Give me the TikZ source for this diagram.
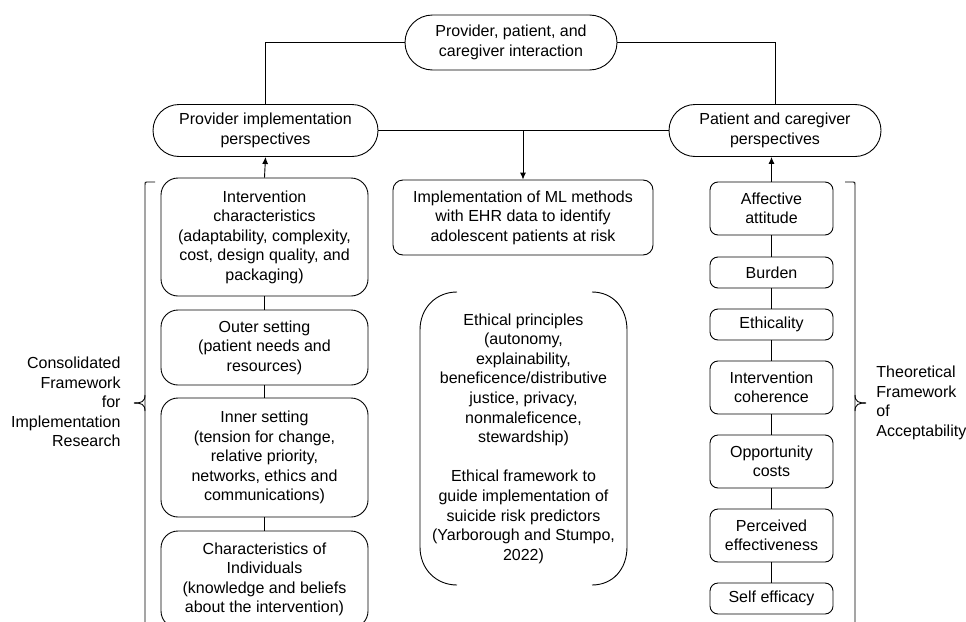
\documentclass[tikz,border=0pt]{standalone}
\usepackage{fontspec}
\setmainfont{Liberation Sans}
\usetikzlibrary{shapes.misc,arrows.meta}
\begin{document}
\begin{tikzpicture}[x=1pt,y=-1pt,
  line width=0.9pt,
  every node/.style={font=\fontsize{16}{19.5}\selectfont, align=center, inner sep=0pt},
  stad/.style={draw, rounded rectangle, minimum height=52pt},
  lbox/.style={draw, rounded corners=17pt, minimum width=207pt},
  rbox/.style={draw, rounded corners=8pt, minimum width=123pt},
  mbox/.style={draw, rounded corners=10pt, minimum width=260pt, minimum height=75pt},
  arr/.style={-{Latex[length=7pt,width=6pt]}},
  lab/.style={font=\fontsize{16}{19.6}\selectfont}
]
\useasboundingbox (0,0) rectangle (966,621);
\clip (0,0) rectangle (966,621);

% top row
\node[stad, minimum width=212pt, minimum height=55pt] (top) at (511,42.5) {Provider, patient, and\\caregiver interaction};
\node[stad, minimum width=225pt] (prov) at (265.5,130.5) {Provider implementation\\perspectives};
\node[stad, minimum width=212pt] (pat) at (775,130.5) {Patient and caregiver\\perspectives};

\draw (top.west) -| (prov.north);
\draw (top.east) -| (pat.north);
\draw (prov.east) -- (pat.west);

% middle
\node[mbox] (ml) at (523,217.5) {Implementation of ML methods\\with EHR data to identify\\adolescent patients at risk};
\coordinate (mlsrc) at (ml.north |- prov.east);
\draw[arr] (mlsrc) -- (ml.north);

\node[lab, minimum width=207pt, minimum height=293pt] (eth) at (523.5,438.5) {Ethical principles\\(autonomy,\\explainability,\\beneficence/distributive\\justice, privacy,\\nonmaleficence,\\stewardship)\\[19.6pt]Ethical framework to\\guide implementation of\\suicide risk predictors\\(Yarborough and Stumpo,\\2022)};
\draw (457,292) .. controls (436,292) and (420,308) .. (420,330) -- (420,547) .. controls (420,569) and (436,585) .. (457,585);
\draw (592,292) .. controls (613,292) and (627,308) .. (627,330) -- (627,547) .. controls (627,569) and (613,585) .. (592,585);

% left column
\node[lbox, minimum height=118pt] (l1) at (264.5,237) {Intervention\\characteristics\\(adaptability, complexity,\\cost, design quality, and\\packaging)};
\node[lbox, minimum height=75pt] (l2) at (264.5,347.5) {Outer setting\\(patient needs and\\resources)};
\node[lbox, minimum height=119pt] (l3) at (264.5,457.5) {Inner setting\\(tension for change,\\relative priority,\\networks, ethics and\\communications)};
\node[lbox, minimum height=97pt] (l4) at (264.5,579.5) {Characteristics of\\Individuals\\(knowledge and beliefs\\about the intervention)};
\draw[arr] (l1.north) -- (prov.south);
\draw (l1) -- (l2);
\draw (l2) -- (l3);
\draw (l3) -- (l4);

% right column
\node[rbox, minimum height=53pt] (r1) at (771.5,208.5) {Affective\\attitude};
\node[rbox, minimum height=31pt] (r2) at (771.5,272.5) {Burden};
\node[rbox, minimum height=31pt] (r3) at (771.5,324.5) {Ethicality};
\node[rbox, minimum height=53pt] (r4) at (771.5,387.5) {Intervention\\coherence};
\node[rbox, minimum height=53pt] (r5) at (771.5,461.5) {Opportunity\\costs};
\node[rbox, minimum height=53pt] (r6) at (771.5,535.5) {Perceived\\effectiveness};
\node[rbox, minimum height=31pt] (r7) at (771.5,598.5) {Self efficacy};
\draw[arr] (r1.north) -- (r1.north |- pat.south);
\draw (r1) -- (r2);
\draw (r2) -- (r3);
\draw (r3) -- (r4);
\draw (r4) -- (r5);
\draw (r5) -- (r6);
\draw (r6) -- (r7);

% braces
\draw (155,182) -- (147,182) .. controls (145,182) .. (145,185) -- (145,640);
\draw (145,395) .. controls (145,402) and (141,403) .. (134,403);
\draw (145,411) .. controls (145,404) and (141,403) .. (134,403);
\draw (845,182) -- (853,182) .. controls (855,182) .. (855,185) -- (855,640);
\draw (855,395) .. controls (855,402) and (859,403) .. (866,403);
\draw (855,411) .. controls (855,404) and (859,403) .. (866,403);

\node[lab, align=right, anchor=east] (cfir) at (121,402) {Consolidated\\Framework\\for\\Implementation\\Research};
\node[lab, align=left, anchor=west] (tfa) at (876,403) {Theoretical\\Framework\\of\\Acceptability};
\end{tikzpicture}
\end{document}
